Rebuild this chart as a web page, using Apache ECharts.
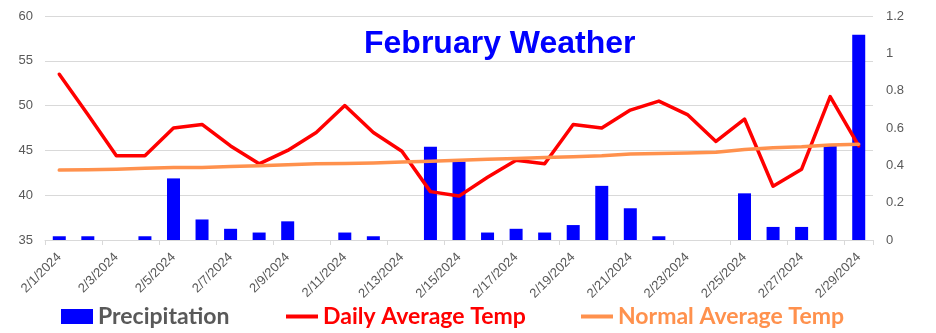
<!DOCTYPE html>
<html>
<head>
<meta charset="utf-8">
<script src="https://cdn.jsdelivr.net/npm/echarts@6/dist/echarts.min.js"></script>
<style>
  html, body { margin: 0; padding: 0; background: #ffffff; }
  #chart { width: 936px; height: 333px; }
</style>
</head>
<body>
<div id="chart"></div>
<script>
// February 2024 daily weather: precipitation (inches) and temperatures (°F)
const dates = [
  '2/1/2024', '2/2/2024', '2/3/2024', '2/4/2024', '2/5/2024', '2/6/2024', '2/7/2024',
  '2/8/2024', '2/9/2024', '2/10/2024', '2/11/2024', '2/12/2024', '2/13/2024', '2/14/2024',
  '2/15/2024', '2/16/2024', '2/17/2024', '2/18/2024', '2/19/2024', '2/20/2024', '2/21/2024',
  '2/22/2024', '2/23/2024', '2/24/2024', '2/25/2024', '2/26/2024', '2/27/2024', '2/28/2024',
  '2/29/2024'
];

const precipitation = [
  0.02, 0.02, 0, 0.02, 0.33, 0.11, 0.06, 0.04, 0.10, 0, 0.04, 0.02, 0, 0.50, 0.42,
  0.04, 0.06, 0.04, 0.08, 0.29, 0.17, 0.02, 0, 0, 0.25, 0.07, 0.07, 0.51, 1.10
];

const dailyAvgTemp = [
  53.5, 49.0, 44.4, 44.4, 47.5, 47.9, 45.5, 43.5, 45.0, 47.0, 50.0, 47.0, 44.9, 40.4, 39.9,
  42.0, 43.9, 43.5, 47.9, 47.5, 49.5, 50.5, 49.0, 46.0, 48.5, 41.0, 42.9, 51.0, 45.5
];

const normalAvgTemp = [
  42.8, 42.85, 42.9, 43.0, 43.1, 43.1, 43.2, 43.3, 43.4, 43.5, 43.55, 43.6, 43.7, 43.8, 43.9,
  44.0, 44.1, 44.2, 44.3, 44.4, 44.6, 44.65, 44.7, 44.8, 45.1, 45.3, 45.4, 45.6, 45.7
];

const tempTicks = { min: 35, max: 60, interval: 5 };
const precipTicks = { min: 0, max: 1.2, interval: 0.2 };

const AXIS_GRAY = '#595959';
const GRID_GRAY = '#d9d9d9';
const BLUE = '#0000ff';
const RED = '#ff0000';
const ORANGE = '#ff914d';
const LEGEND_FONT = 'Lato, "Liberation Sans", sans-serif';
const AXIS_FONT = '"Liberation Sans", Arial, sans-serif';

const chart = echarts.init(document.getElementById('chart'), null, { renderer: 'canvas' });

// One legend block per series so each entry sits at its own spot
function legendItem(name, left, color, iconHeight) {
  return {
    left: left,
    top: 305,
    padding: 0,
    orient: 'horizontal',
    itemWidth: 32,
    itemHeight: iconHeight,
    data: [{ name: name, icon: 'rect' }],
    selectedMode: false,
    textStyle: {
      color: color,
      fontFamily: LEGEND_FONT,
      fontWeight: 'bold',
      fontSize: 23
    }
  };
}

chart.setOption({
  animation: false,
  backgroundColor: '#ffffff',
  title: {
    text: 'February Weather',
    left: 359,
    top: 23,
    textStyle: {
      color: BLUE,
      fontFamily: AXIS_FONT,
      fontWeight: 'bold',
      fontSize: 32
    }
  },
  legend: [
    legendItem('Precipitation', 61, AXIS_GRAY, 15),
    legendItem('Daily Average Temp', 286, RED, 4),
    legendItem('Normal Average Temp', 581, ORANGE, 4)
  ],
  grid: { left: 45, right: 63, top: 16, bottom: 93, containLabel: false },
  xAxis: {
    type: 'category',
    data: dates,
    boundaryGap: true,
    axisLine: { lineStyle: { color: GRID_GRAY, width: 1 } },
    axisTick: { show: true, interval: 1, length: 5, lineStyle: { color: GRID_GRAY } },
    axisLabel: {
      interval: 1,
      rotate: 45,
      margin: 15,
      color: AXIS_GRAY,
      fontFamily: AXIS_FONT,
      fontSize: 13
    }
  },
  yAxis: [
    {
      type: 'value',
      min: tempTicks.min,
      max: tempTicks.max,
      interval: tempTicks.interval,
      axisLine: { show: false },
      axisTick: { show: false },
      splitLine: { show: true, lineStyle: { color: GRID_GRAY, width: 1 } },
      axisLabel: {
        color: AXIS_GRAY,
        margin: 12,
        fontFamily: AXIS_FONT,
        fontSize: 13
      }
    },
    {
      type: 'value',
      position: 'right',
      min: precipTicks.min,
      max: precipTicks.max,
      interval: precipTicks.interval,
      axisLine: { show: false },
      axisTick: { show: false },
      splitLine: { show: false },
      axisLabel: {
        color: AXIS_GRAY,
        margin: 13,
        fontFamily: AXIS_FONT,
        fontSize: 13,
        formatter: v => String(Math.round(v * 10) / 10)
      }
    }
  ],
  series: [
    {
      name: 'Precipitation',
      type: 'bar',
      yAxisIndex: 1,
      data: precipitation,
      barWidth: 13,
      itemStyle: { color: BLUE }
    },
    {
      name: 'Daily Average Temp',
      type: 'line',
      yAxisIndex: 0,
      data: dailyAvgTemp,
      symbol: 'none',
      showSymbol: false,
      lineStyle: { color: RED, width: 3.5, join: 'round', cap: 'round' },
      itemStyle: { color: RED }
    },
    {
      name: 'Normal Average Temp',
      type: 'line',
      yAxisIndex: 0,
      data: normalAvgTemp,
      symbol: 'none',
      showSymbol: false,
      lineStyle: { color: ORANGE, width: 3.5, join: 'round', cap: 'round' },
      itemStyle: { color: ORANGE }
    }
  ]
});
</script>
</body>
</html>
